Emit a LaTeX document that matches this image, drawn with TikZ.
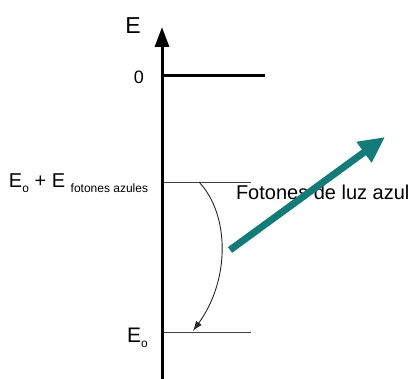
\documentclass[tikz,border=0pt]{standalone}
\usepackage{fontspec}
\setmainfont{Liberation Sans}
\usetikzlibrary{arrows.meta}
\definecolor{photon}{RGB}{20,124,120}
\tikzset{
  lbl/.style={inner sep=0pt, outer sep=0pt, text=black},
  axisline/.style={line width=3pt, -{Triangle[length=20pt,width=14pt]}},
  zeroline/.style={line width=3pt},
  levelline/.style={line width=0.9pt, black!75},
  transition/.style={line width=0.9pt, black!85, -{Latex[length=10pt,width=7pt]}},
  photonarrow/.style={line width=7pt, photon, -{Triangle[length=26pt,width=24pt]}}
}
\newcommand{\fs}[1]{\fontsize{#1}{#1}\selectfont}
\begin{document}
\begin{tikzpicture}[x=1pt,y=-1pt]
\useasboundingbox (0,0) rectangle (410,379);
% coordinates
\coordinate (axisB) at (162,379);
\coordinate (axisT) at (162,27);
\coordinate (zeroL) at (160.5,76);
\coordinate (zeroR) at (265,76);
\coordinate (upL) at (162,182);
\coordinate (upR) at (251,182);
\coordinate (lowL) at (162,332);
\coordinate (lowR) at (251,332);
\coordinate (curS) at (199,182);
\coordinate (curE) at (193,331);
\coordinate (phS) at (230,250);
\coordinate (phE) at (385,137);
% lines
\draw[levelline] (upL) -- (upR);
\draw[levelline] (lowL) -- (lowR);
\draw[zeroline] (zeroL) -- (zeroR);
\draw[axisline] (axisB) -- (axisT);
\draw[transition] (curS) .. controls (230,215) and (230,280) .. (curE);
% labels
\node[lbl, anchor=base] (E) at (133,34) {\fs{23}E};
\node[lbl, anchor=base] (zero) at (139,84) {\fs{18}0};
\node[lbl, anchor=base west] (upper) at (9,188) {\fs{20}E\raisebox{-5pt}{\fs{12}o} + E \raisebox{-5pt}{\fs{12}fotones azules}};
\node[lbl, anchor=base west] (lower) at (127,343) {\fs{21}E\raisebox{-5pt}{\fs{12}o}};
\node[lbl, anchor=base west] (fot) at (236,200) {\fs{20}Fotones de luz azul};
\draw[photonarrow] (phS) -- (phE);
\end{tikzpicture}
\end{document}
